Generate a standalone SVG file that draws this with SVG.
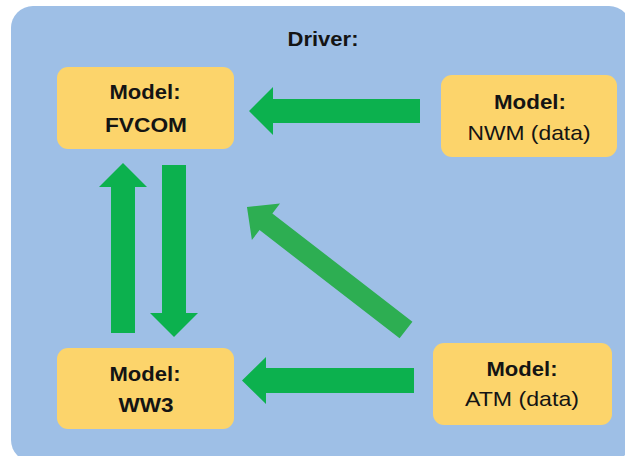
<svg xmlns="http://www.w3.org/2000/svg" width="625" height="456" viewBox="0 0 625 456">
<style>
.bg{fill:#9ebfe6}
.box{fill:#fcd46b}
.arr{fill:#0cb14e}
.arr2{fill:#2dae52}
text{font-family:"Liberation Sans",Arial,sans-serif;fill:#141414;text-anchor:middle}
.b{font-weight:bold;font-size:20px}
.r{font-size:21px}
</style>
<rect class="bg" x="11" y="6" width="620" height="456" rx="22"/>
<text class="b" x="323" y="46" textLength="71" lengthAdjust="spacingAndGlyphs">Driver:</text>
<g id="connectors">
<polygon class="arr" points="420,99 273,99 273,87 249,111 273,135 273,123 420,123"/>
<polygon class="arr" points="414,368 266,368 266,357 242,380.5 266,404 266,393 414,393"/>
<polygon class="arr" points="111,333 111,187 99,187 123,163 147,187 135,187 135,333"/>
<polygon class="arr" points="162,165 186,165 186,313 198,313 174,337 150,313 162,313"/>
<polygon class="arr2" transform="translate(406,330) rotate(-142.3)" points="0,-10.5 177,-10.5 177,-23 201,0 177,23 177,10.5 0,10.5"/>
</g>
<g id="fvcom">
<rect class="box" x="57" y="67" width="177" height="82" rx="11"/>
<text class="b" x="145" y="99" textLength="71" lengthAdjust="spacingAndGlyphs">Model:</text>
<text class="b" x="146" y="132" textLength="82" lengthAdjust="spacingAndGlyphs">FVCOM</text>
</g>
<g id="nwm">
<rect class="box" x="441" y="75" width="176" height="82" rx="11"/>
<text class="b" x="530" y="109" textLength="72" lengthAdjust="spacingAndGlyphs">Model:</text>
<text class="r" x="529" y="140" textLength="123" lengthAdjust="spacingAndGlyphs">NWM (data)</text>
</g>
<g id="ww3">
<rect class="box" x="57" y="348" width="177" height="81" rx="11"/>
<text class="b" x="145" y="381" textLength="71" lengthAdjust="spacingAndGlyphs">Model:</text>
<text class="b" x="146" y="412" textLength="55" lengthAdjust="spacingAndGlyphs">WW3</text>
</g>
<g id="atm">
<rect class="box" x="433" y="343" width="179" height="82" rx="11"/>
<text class="b" x="522" y="376" textLength="71" lengthAdjust="spacingAndGlyphs">Model:</text>
<text class="r" x="522" y="406" textLength="114" lengthAdjust="spacingAndGlyphs">ATM (data)</text>
</g>
</svg>
